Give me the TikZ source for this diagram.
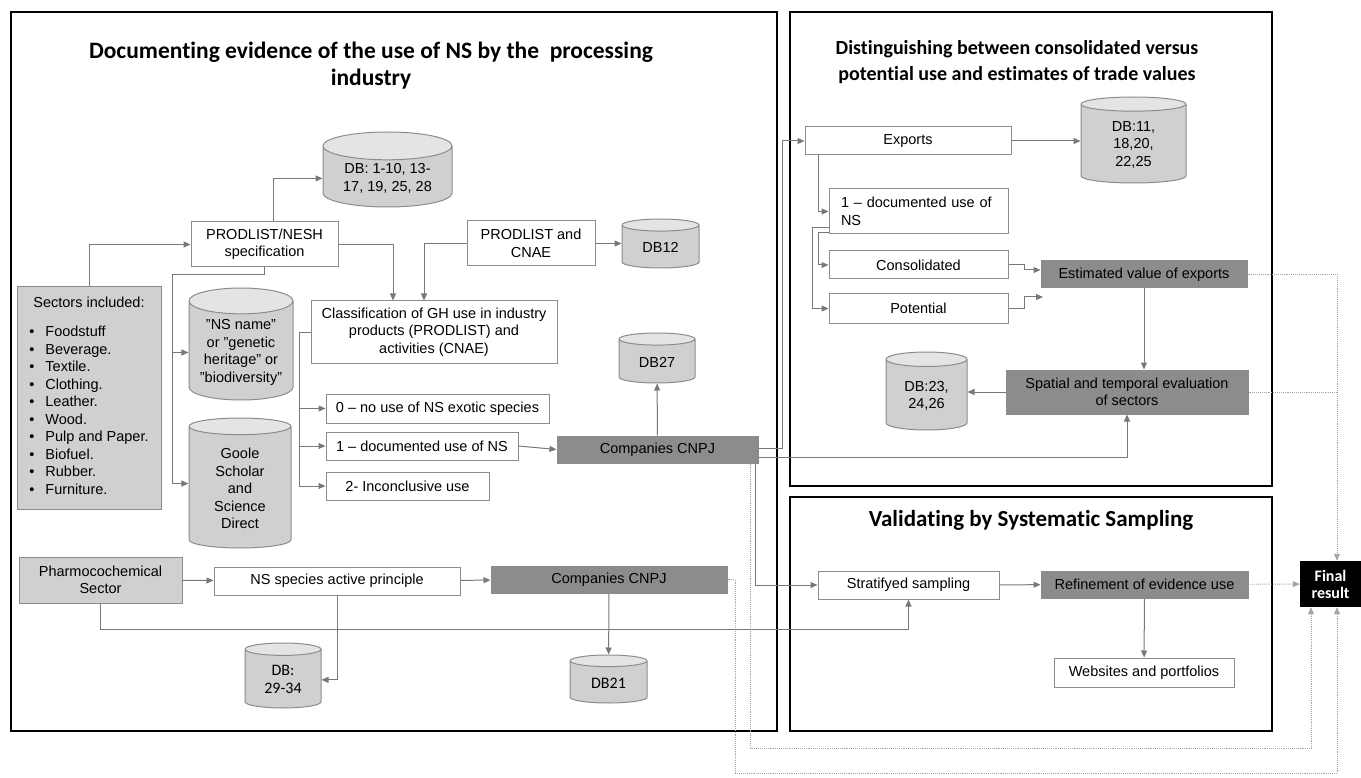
\documentclass[tikz,border=0pt]{standalone}
\usepackage{fontspec}
\setmainfont{Liberation Sans}
\newfontfamily\calfont[Ligatures=NoCommon]{Carlito}
\usetikzlibrary{arrows.meta,positioning,shapes.geometric,calc}
\definecolor{edgegray}{RGB}{140,140,140}
\definecolor{linkgray}{RGB}{120,120,120}
\definecolor{palegray}{RGB}{208,208,208}
\definecolor{toppale}{RGB}{228,228,228}
\definecolor{darkfill}{RGB}{140,140,140}
\definecolor{dotgray}{RGB}{165,165,165}

\begin{document}
\begin{tikzpicture}[x=1pt, y=-1pt,
  every node/.style={font=\fontsize{14.5}{17.5}\selectfont, align=center, inner sep=2pt},
  wh/.style 2 args={minimum width=#1pt, minimum height=#2pt},
  panel/.style={draw=black, line width=2.2pt},
  ttl/.style={font=\calfont\bfseries\fontsize{23.5}{27}\selectfont},
  wbox/.style={draw=edgegray, line width=1pt, fill=white},
  gbox/.style={draw=edgegray, line width=1pt, fill=palegray},
  dbox/.style={draw=edgegray, line width=1pt, fill=darkfill},
  dbcyl/.style={cylinder, shape border rotate=90, aspect=0.3, anchor=shape center, draw=edgegray, line width=1pt,
    cylinder uses custom fill, cylinder body fill=palegray, cylinder end fill=toppale},
  flow/.style={draw=linkgray, line width=1pt, -{Triangle[length=7pt,width=6pt]}},
  dotflow/.style={draw=dotgray, line width=0.9pt, densely dotted, -{Triangle[length=7pt,width=6pt]}}
]
\useasboundingbox (0,0) rectangle (1361,778);

\draw[panel] (11,12) rectangle (777,731);
\draw[panel] (790,12) rectangle (1272,486);
\draw[panel] (790,497) rectangle (1272,731);

\node[ttl] (ttlleft) at (371,66) {Documenting evidence of the use of NS by the\ \ processing\\industry};
\node[ttl, font=\calfont\bfseries\fontsize{20}{26}\selectfont] (ttlright) at (1017,62) {Distinguishing between consolidated versus\\potential use and estimates of trade values};
\node[ttl, font=\calfont\bfseries\fontsize{23}{27}\selectfont] (ttlval) at (1031,520) {Validating by Systematic Sampling};

\node[dbcyl, wh={129}{75}] (db1) at (387.5,169.5) {DB: 1-10, 13-\\17, 19, 25, 28};
\node[wbox, wh={147}{45}] (prodnesh) at (264.5,244.5) {PRODLIST/NESH\\specification};
\node[wbox, wh={128}{45}] (prodcnae) at (531,243.5) {PRODLIST and\\CNAE};
\node[dbcyl, wh={77}{49}] (db12) at (660.5,243.5) {DB12};
\node[gbox, wh={144}{222}] (sectors) at (89,398) {Sectors included:\\[16pt]
  \begin{tabular}{@{}l@{\hspace{11pt}}l@{}}
  \textbullet & Foodstuff\\
  \textbullet & Beverage.\\
  \textbullet & Textile.\\
  \textbullet & Clothing.\\
  \textbullet & Leather.\\
  \textbullet & Wood.\\
  \textbullet & Pulp and Paper.\\
  \textbullet & Biofuel.\\
  \textbullet & Rubber.\\
  \textbullet & Furniture.
  \end{tabular}};
\node[dbcyl, wh={104}{112}] (nsname) at (241,344) {''NS name''\\or ''genetic\\heritage'' or\\''biodiversity''};
\node[dbcyl, wh={102}{130}] (goole) at (240,483) {Goole\\Scholar\\and\\Science\\Direct};
\node[wbox, wh={246}{62}] (classif) at (434,332) {Classification of GH use in industry\\products (PRODLIST) and\\activities (CNAE)};
\node[wbox, wh={223}{29}] (use0) at (437.5,408.5) {0 – no use of NS exotic species};
\node[wbox, wh={192}{28}] (use1) at (422,446) {1 – documented use of NS};
\node[wbox, wh={163}{28}] (use2) at (407.5,486) {2- Inconclusive use};
\node[dbox, wh={201}{27}] (cnpj1) at (657.5,449.5) {Companies CNPJ};
\node[dbcyl, wh={76}{50}] (db27) at (657,358) {DB27};
\node[gbox, wh={163}{46}] (pharma) at (100.5,580) {Pharmocochemical\\Sector};
\node[wbox, wh={246}{28}] (nsspecies) at (337,581) {NS species active principle};
\node[dbox, wh={236}{27}] (cnpj2) at (609,579.5) {Companies CNPJ};
\node[dbcyl, wh={76}{65}, font=\calfont\fontsize{16}{18}\selectfont] (db2934) at (283,675.5) {DB:\\29-34};
\node[dbcyl, wh={77}{48}, font=\calfont\fontsize{16}{18}\selectfont] (db21) at (608.5,679) {DB21};

\node[wbox, wh={206}{28}] (exports) at (908,141) {Exports};
\node[dbcyl, wh={105}{86}] (db11) at (1133.5,140) {DB:11,\\18,20,\\22,25};
\node[wbox, wh={179}{45}, text width=155pt, align=left] (doc1) at (918.5,211.5) {1 – documented use of\\NS};
\node[wbox, wh={179}{28}] (consol) at (918.5,265) {Consolidated};
\node[wbox, wh={179}{29}] (potent) at (918.5,308.5) {Potential};
\node[dbox, wh={206}{27}] (estim) at (1144,274.5) {Estimated value of exports};
\node[dbox, wh={242}{44}] (spatial) at (1127,392) {Spatial and temporal evaluation\\of sectors};
\node[dbcyl, wh={81}{78}] (db23) at (926.5,391) {DB:23,\\24,26};

\node[wbox, wh={181}{28}] (strat) at (908.5,585) {Stratifyed sampling};
\node[dbox, wh={207}{27}] (refine) at (1144.5,584.5) {Refinement of evidence use};
\node[wbox, wh={180}{29}] (webs) at (1144,672.5) {Websites and portfolios};
\node[fill=black, text=white, wh={61}{46}, font=\calfont\bfseries\fontsize{16}{17}\selectfont] (final) at (1330.5,584) {Final\\result};

\coordinate (nsbus) at (172,275);
\coordinate (usebus) at (299,332);
\coordinate (potend) at (1043,297);
\coordinate (loopA) at (1311,748);
\coordinate (loopB) at (735,773);
\coordinate (finaltop) at ([xshift=6.5pt]final.north);

\draw[flow] (sectors.north) |- (prodnesh.west);
\draw[flow] ([xshift=8.5pt]prodnesh.north) |- (db1.west);
\draw[flow] (prodnesh.east) -| ([xshift=-41pt]classif.north);
\draw[flow] (prodcnae.west) -| ([xshift=-10pt]classif.north);
\draw[flow] (prodcnae.east) -- (prodcnae.east -| db12.west);
\draw[flow] (prodnesh.south) |- (nsbus) |- (nsname.west);
\draw[flow] (nsbus) |- ([yshift=5pt]goole.west);
\draw[flow] (classif.west) -- (usebus) |- (use0.west);
\draw[flow] (usebus) |- (use1.west);
\draw[flow] (usebus) |- (use2.west);
\draw[flow] (use1.east) -- (cnpj1.west);
\draw[flow] (cnpj1) -- (db27);
\draw[flow] ([yshift=1.5pt]cnpj1.east) -- ++(24,0) |- (exports.west);
\draw[flow] ([yshift=-7.5pt]cnpj1.east) -| (spatial.south);
\draw[flow] ([xshift=97.5pt]cnpj1.south) |- (strat.west);
\draw[dotflow] ([xshift=92.5pt]cnpj1.south) |- (loopA) -- ([xshift=-19.5pt]final.south);
\draw[dotflow] (cnpj2.east) -| (loopB) -| ([xshift=6.5pt]final.south);
\draw[flow] (pharma) -- (nsspecies);
\draw[flow] (nsspecies) -- (cnpj2);
\draw[flow] (pharma.south) -- ++(0,26) -| (strat.south);
\draw[flow] (nsspecies.south) |- (db2934);
\draw[flow] (cnpj2) -- (db21);

\draw[flow] (exports.east) -- (exports.east -| db11.west);
\draw[flow] ([xshift=-90pt]exports.south) |- (doc1.west);
\draw[flow] ([yshift=-21.5pt]doc1.west) -- ++(-10,0) |- (consol.west);
\draw[flow] ([yshift=-16.5pt]doc1.west) -- ++(-16,0) |- (potent.west);
\draw[flow] (consol.east) -- ++(16,0) |- ([yshift=4.5pt]estim.west);
\draw[flow] (potent.east) -- ++(16,0) |- (potend);
\draw[flow] (estim.south) -- (estim.south |- spatial.north);
\draw[flow] (spatial.west) -- (spatial.west -| db23.east);
\draw[dotflow] (estim.east) -| (finaltop);
\draw[dotflow, -] (spatial.east) -- (spatial.east -| finaltop);
\draw[flow] (strat) -- (refine);
\draw[flow] (refine) -- (webs);
\draw[dotflow] (refine) -- (final);
\end{tikzpicture}
\end{document}
